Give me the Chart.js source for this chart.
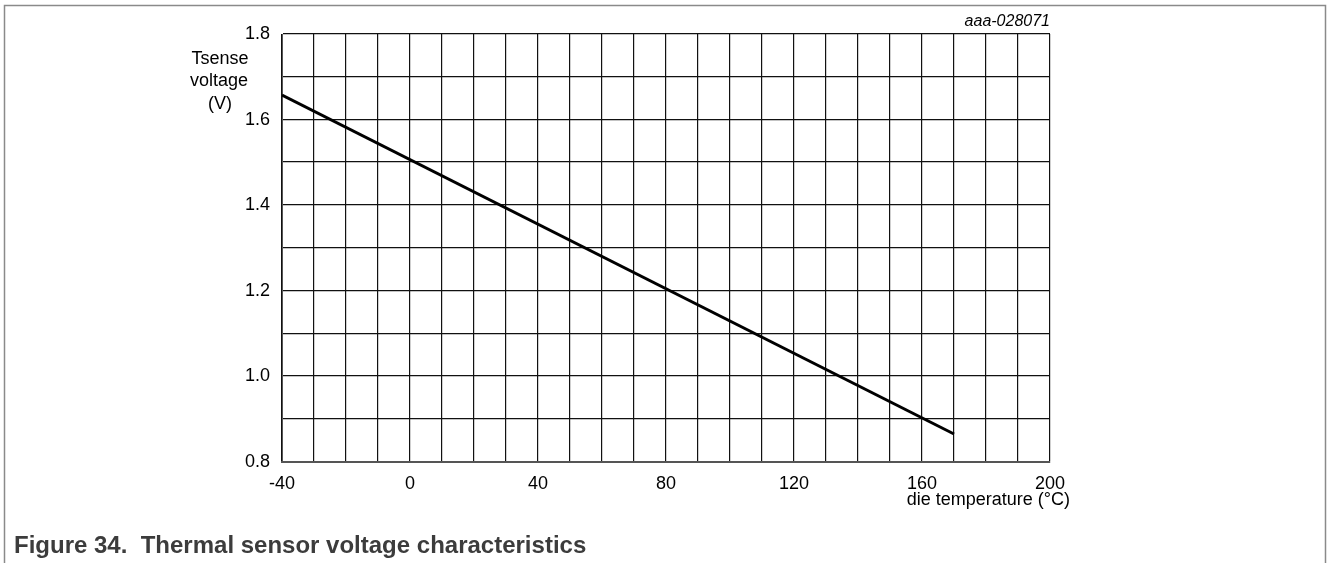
<!DOCTYPE html>
<html lang="en">
  <head>
    <meta charset="UTF-8" />
    <title>Thermal sensor voltage characteristics</title>
    <style>
      html, body { margin: 0; padding: 0; background: #fff; }
      .container { width: 1328px; height: 563px; position: relative; }
    </style>
  </head>
  <body>
    <div class="container">
      <canvas id="myChart" width="1328" height="563"></canvas>
    </div>

    <script src="https://cdn.jsdelivr.net/npm/chart.js"></script>

    <script>
      // data
      const temperatures = [-40, 170];
      const voltages = [1.657, 0.865];
      const xTickLabels = [-40, 0, 40, 80, 120, 160, 200];
      const yTickLabels = [0.8, 1.0, 1.2, 1.4, 1.6, 1.8];

      const FONT = "'Liberation Sans', Arial, sans-serif";

      // frame, axis titles, figure id and caption
      const figureText = {
        id: "figureText",
        afterDraw(chart) {
          const { ctx, chartArea: { top, bottom, left, right } } = chart;
          ctx.save();

          ctx.strokeStyle = "#8a8a8a";
          ctx.lineWidth = 1.5;
          ctx.beginPath();
          ctx.moveTo(4.5, 563);
          ctx.lineTo(4.5, 5.5);
          ctx.lineTo(1325.5, 5.5);
          ctx.lineTo(1325.5, 563);
          ctx.stroke();

          ctx.fillStyle = "#000";
          ctx.textBaseline = "middle";
          ctx.font = `18px ${FONT}`;
          ctx.textAlign = "center";
          ctx.fillText("Tsense", 220, 59);
          ctx.fillText("voltage", 219, 81);
          ctx.fillText("(V)", 220, 104);

          ctx.textAlign = "right";
          ctx.fillText("die temperature (°C)", right + 20, bottom + 38);

          ctx.font = `italic 16px ${FONT}`;
          ctx.fillText("aaa-028071", right, top - 12);

          ctx.font = `bold 24px ${FONT}`;
          ctx.fillStyle = "#3c3c3c";
          ctx.textAlign = "left";
          ctx.fillText("Figure 34.  Thermal sensor voltage characteristics", 14, 546);
          ctx.restore();
        },
      };

      const ctx = document.getElementById("myChart").getContext("2d");

      new Chart(ctx, {
        type: "line",
        data: {
          datasets: [
            {
              data: temperatures.map((t, i) => ({ x: t, y: voltages[i] })),
              borderColor: "#000",
              borderWidth: 3,
              pointRadius: 0,
              tension: 0,
            },
          ],
        },
        options: {
          responsive: false,
          animation: false,
          layout: { padding: { top: 34, right: 278, left: 0, bottom: 0 } },
          plugins: {
            legend: { display: false },
            tooltip: { enabled: false },
          },
          scales: {
            x: {
              type: "linear",
              min: -40,
              max: 200,
              alignToPixels: true,
              afterFit(scale) { scale.height = 101; },
              grid: { color: "#111", lineWidth: 1.2, drawTicks: false },
              border: { color: "#555", width: 2 },
              ticks: {
                stepSize: 10,
                autoSkip: false,
                maxRotation: 0,
                padding: 11,
                color: "#000",
                font: { family: FONT, size: 18 },
                callback: (v) => (xTickLabels.includes(v) ? String(v) : ""),
              },
            },
            y: {
              min: 0.8,
              max: 1.8,
              alignToPixels: true,
              afterFit(scale) { scale.width = 282; },
              grid: { color: "#111", lineWidth: 1.2, drawTicks: false },
              border: { color: "#555", width: 1 },
              ticks: {
                stepSize: 0.1,
                autoSkip: false,
                padding: 12,
                color: "#000",
                font: { family: FONT, size: 18 },
                callback: (v) => {
                  const r = Math.round(v * 10) / 10;
                  return yTickLabels.includes(r) ? r.toFixed(1) : "";
                },
              },
            },
          },
        },
        plugins: [figureText],
      });
    </script>
  </body>
</html>
